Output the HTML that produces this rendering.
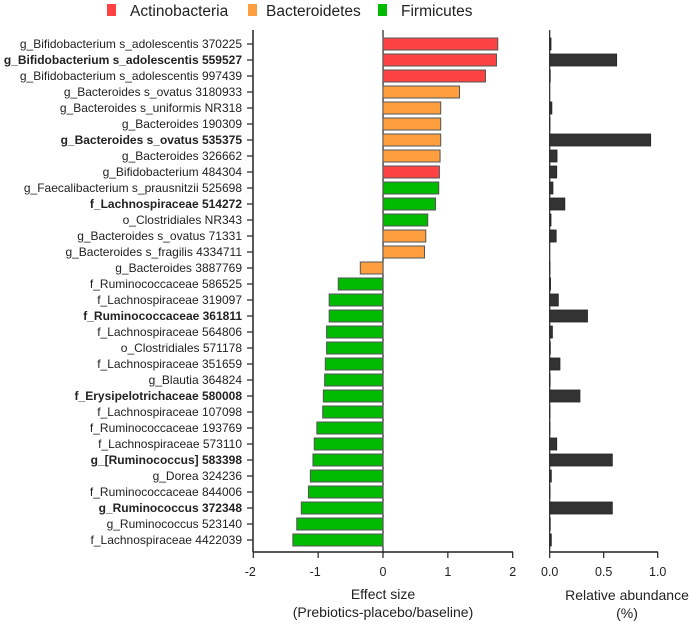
<!DOCTYPE html>
<html><head><meta charset="utf-8"><style>
body{margin:0;background:#fff;}
svg{display:block;font-family:"Liberation Sans",Arial,sans-serif;}
</style></head><body>
<svg id="chart" width="689" height="623" viewBox="0 0 689 623">
<g id="legend">
<g><rect x="107" y="4" width="9" height="12" fill="#fd4244"/><text x="130" y="16" font-size="15.5" fill="#222">Actinobacteria</text></g>
<g><rect x="248" y="4" width="9" height="12" fill="#fe9f3f"/><text x="266" y="16" font-size="15.5" fill="#222">Bacteroidetes</text></g>
<g><rect x="378" y="4" width="9" height="12" fill="#00bb00"/><text x="401" y="16" font-size="15.5" fill="#222">Firmicutes</text></g>
</g>
<g id="plot"></g>
</svg>
<script>
const labels=["g_Bifidobacterium s_adolescentis 370225","g_Bifidobacterium s_adolescentis 559527","g_Bifidobacterium s_adolescentis 997439","g_Bacteroides s_ovatus 3180933","g_Bacteroides s_uniformis NR318","g_Bacteroides 190309","g_Bacteroides s_ovatus 535375","g_Bacteroides 326662","g_Bifidobacterium 484304","g_Faecalibacterium s_prausnitzii 525698","f_Lachnospiraceae 514272","o_Clostridiales NR343","g_Bacteroides s_ovatus 71331","g_Bacteroides s_fragilis 4334711","g_Bacteroides 3887769","f_Ruminococcaceae 586525","f_Lachnospiraceae 319097","f_Ruminococcaceae 361811","f_Lachnospiraceae 564806","o_Clostridiales 571178","f_Lachnospiraceae 351659","g_Blautia 364824","f_Erysipelotrichaceae 580008","f_Lachnospiraceae 107098","f_Ruminococcaceae 193769","f_Lachnospiraceae 573110","g_[Ruminococcus] 583398","g_Dorea 324236","f_Ruminococcaceae 844006","g_Ruminococcus 372348","g_Ruminococcus 523140","f_Lachnospiraceae 4422039"];
const bold=[0,1,0,0,0,0,1,0,0,0,1,0,0,0,0,0,0,1,0,0,0,0,1,0,0,0,1,0,0,1,0,0];
const phylum=["A","A","A","B","B","B","B","B","A","F","F","F","B","B","B","F","F","F","F","F","F","F","F","F","F","F","F","F","F","F","F","F"];
const effect=[1.77,1.75,1.58,1.18,0.89,0.89,0.89,0.88,0.87,0.86,0.81,0.69,0.66,0.64,-0.35,-0.69,-0.83,-0.83,-0.87,-0.87,-0.89,-0.90,-0.92,-0.93,-1.02,-1.06,-1.08,-1.12,-1.15,-1.26,-1.33,-1.39];
const abundance=[0.012,0.62,0.005,0,0.02,0.002,0.935,0.068,0.065,0.03,0.14,0.012,0.06,0,0.002,0.008,0.08,0.35,0.025,0.006,0.095,0.004,0.28,0.002,0.002,0.065,0.58,0.015,0.003,0.58,0.005,0.015];
const effTicks=[-2,-1,0,1,2];
const abTicks=["0.0","0.5","1.0"];
const colors={A:"#fd4244",B:"#fe9f3f",F:"#00bb00"};
const NS="http://www.w3.org/2000/svg";
const g=document.getElementById('plot');
const xE=v=>383+v*64.85;
const xA=v=>549.7+v*108;
const yR=i=>44+i*16;
function mk(t,a,p){const e=document.createElementNS(NS,t);for(const k in a)e.setAttribute(k,a[k]);(p||g).appendChild(e);return e;}
let ax=mk('line',{x1:253,y1:30,x2:253,y2:552,stroke:'#222','stroke-width':1.5});


let bx=mk('line',{x1:253,y1:552,x2:513,y2:552,stroke:'#222','stroke-width':1.5});


let zl=mk('line',{x1:383,y1:30,x2:383,y2:552,stroke:'#222','stroke-width':1.2});


let ra=mk('line',{x1:549.7,y1:30,x2:549.7,y2:552,stroke:'#222','stroke-width':1.2});


let rb=mk('line',{x1:549.7,y1:552,x2:658,y2:552,stroke:'#222','stroke-width':1.5});


effTicks.forEach(v=>{
 mk('line',{x1:xE(v),y1:552,x2:xE(v),y2:558,stroke:'#222','stroke-width':1.2});
 const t=mk('text',{x:xE(v)-(v<0?3:0),y:576,'font-size':12.5,'text-anchor':'middle',fill:'#222'});t.textContent=v;
 
 
});
abTicks.forEach(s=>{
 const v=parseFloat(s);
 mk('line',{x1:xA(v),y1:552,x2:xA(v),y2:558,stroke:'#222','stroke-width':1.2});
 const t=mk('text',{x:xA(v),y:576,'font-size':12.5,'text-anchor':'middle',fill:'#222'});t.textContent=s;
 
 
});
labels.forEach((l,i)=>{
 const y=yR(i);
 mk('line',{x1:247,y1:y,x2:253,y2:y,stroke:'#222','stroke-width':1.2});
 const t=mk('text',{x:242,y:y+4,'font-size':12,'text-anchor':'end',fill:'#222','font-weight':bold[i]?'bold':'normal'});t.textContent=l;
 
 
 const v=effect[i];
 const r=mk('rect',{x:Math.min(xE(0),xE(v)),y:y-6,width:Math.abs(xE(v)-xE(0)),height:12,fill:colors[phylum[i]],stroke:'#555','stroke-width':1});
 
 
 const a=abundance[i];
 if(a>0){const b=mk('rect',{x:xA(0),y:y-6,width:xA(a)-xA(0),height:12,fill:'#333',stroke:'#222','stroke-width':0.8});
 
 }
});
const t1=mk('text',{x:383,y:599,'font-size':14,'text-anchor':'middle',fill:'#222'});t1.textContent='Effect size';


const t2=mk('text',{x:383,y:617,'font-size':14,'text-anchor':'middle',fill:'#222'});t2.textContent='(Prebiotics-placebo/baseline)';


const t3=mk('text',{x:627,y:600,'font-size':14,'text-anchor':'middle',fill:'#222'});t3.textContent='Relative abundance';


const t4=mk('text',{x:627,y:618,'font-size':14,'text-anchor':'middle',fill:'#222'});t4.textContent='(%)';


</script>
</body></html>
